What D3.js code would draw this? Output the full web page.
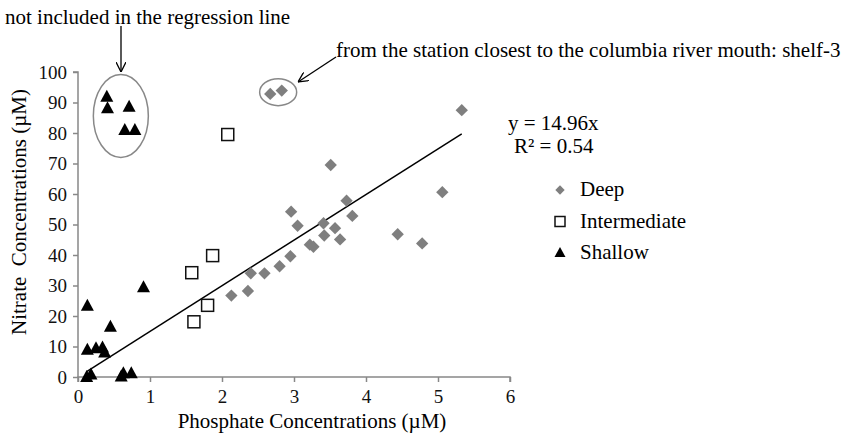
<!DOCTYPE html>
<html>
<head>
<meta charset="utf-8">
<script src="https://cdn.jsdelivr.net/npm/d3@7"></script>
<style>
  body { margin: 0; background: #fff; }
  svg { font-family: "Liberation Serif", "Times New Roman", serif; }
</style>
</head>
<body>
<svg id="chart" width="856" height="433"></svg>
<script>
// phosphate (x) vs nitrate (y)
const deepX = [2.67, 2.83, 5.33, 3.51, 5.06, 3.73, 2.96, 3.81, 3.05, 3.41, 3.57, 3.42, 3.64, 4.44, 4.78, 3.22, 3.27, 2.95, 2.80, 2.59, 2.40, 2.36, 2.13];
const deepY = [92.8, 93.9, 87.5, 69.5, 60.6, 57.8, 54.2, 52.8, 49.6, 50.4, 48.8, 46.4, 45.1, 46.8, 43.8, 43.4, 42.7, 39.6, 36.3, 34.0, 34.0, 28.2, 26.7];
const interX = [2.08, 1.87, 1.58, 1.80, 1.61];
const interY = [79.5, 39.8, 34.2, 23.5, 18.1];
const shallowX = [0.40, 0.41, 0.71, 0.65, 0.79, 0.13, 0.91, 0.45, 0.13, 0.25, 0.34, 0.37, 0.12, 0.18, 0.60, 0.63, 0.74];
const shallowY = [91.9, 88.1, 88.6, 81.0, 81.0, 23.4, 29.4, 16.5, 8.9, 9.4, 9.7, 8.0, 0.0, 0.8, 0.2, 1.2, 1.2];

const xTicks = [0, 1, 2, 3, 4, 5, 6];
const yTicks = [0, 10, 20, 30, 40, 50, 60, 70, 80, 90, 100];
const slope = 14.96;
const fitRange = [0.12, 5.33];
const seriesNames = ["Deep", "Intermediate", "Shallow"];

const svg = d3.select("#chart");
const x = d3.scaleLinear().domain([0, 6]).range([78, 510]);
const y = d3.scaleLinear().domain([0, 100]).range([377, 72]);
const axisColor = "#888";
const deepColor = "#7f7f7f";
const bigFont = "21px";

// axes
const xAxis = svg.append("g")
  .attr("transform", `translate(0,${y(0)})`)
  .call(d3.axisBottom(x).tickValues(xTicks).tickSize(5).tickPadding(8).tickFormat(d3.format("d")));
const yAxis = svg.append("g")
  .attr("transform", `translate(${x(0)},0)`)
  .call(d3.axisLeft(y).tickValues(yTicks).tickSize(5).tickPadding(6).tickFormat(d3.format("d")));

[xAxis, yAxis].forEach(a => {
  a.select(".domain").attr("stroke", axisColor).attr("stroke-width", 1.5);
  a.selectAll(".tick line").attr("stroke", axisColor).attr("stroke-width", 1.5);
  a.selectAll(".tick text")
    .attr("fill", "#111")
    .style("font-family", "Liberation Serif")
    .style("font-size", "19px");
});
xAxis.select(".domain").attr("d", `M${x(0)},5V0H${x(6)}V5`);
yAxis.select(".domain").attr("d", `M-5,${y(100)}H0V${y(0)}`);

svg.append("text")
  .attr("x", 312).attr("y", 428)
  .attr("text-anchor", "middle")
  .style("font-size", bigFont)
  .text("Phosphate Concentrations (\u00b5M)");

svg.append("text")
  .attr("transform", `translate(26,212) rotate(-90)`)
  .attr("text-anchor", "middle")
  .style("font-size", bigFont)
  .style("white-space", "pre")
  .text("Nitrate  Concentrations (\u00b5M)");

// regression line
svg.append("line")
  .attr("x1", x(fitRange[0])).attr("y1", y(slope * fitRange[0]))
  .attr("x2", x(fitRange[1])).attr("y2", y(slope * fitRange[1]))
  .attr("stroke", "#000").attr("stroke-width", 1.5);

const diamond = d3.symbol().type(d3.symbolSquare).size(76);
const triangle = "M0,-7L6.5,5L-6.5,5Z";

// deep
svg.append("g").selectAll("path")
  .data(d3.zip(deepX, deepY))
  .join("path")
  .attr("d", diamond)
  .attr("transform", d => `translate(${x(d[0])},${y(d[1])}) rotate(45)`)
  .attr("fill", deepColor);

// intermediate
svg.append("g").selectAll("rect")
  .data(d3.zip(interX, interY))
  .join("rect")
  .attr("x", d => x(d[0]) - 6).attr("y", d => y(d[1]) - 6)
  .attr("width", 12).attr("height", 12)
  .attr("fill", "#fff").attr("stroke", "#111").attr("stroke-width", 1.5);

// shallow
svg.append("g").selectAll("path")
  .data(d3.zip(shallowX, shallowY))
  .join("path")
  .attr("d", triangle)
  .attr("transform", d => `translate(${x(d[0])},${y(d[1])})`)
  .attr("fill", "#000");

// circled groups
svg.append("ellipse")
  .attr("cx", x(0.595)).attr("cy", y(85.6))
  .attr("rx", 27.5).attr("ry", 41.5)
  .attr("fill", "none").attr("stroke", "#888").attr("stroke-width", 1.5);
svg.append("ellipse")
  .attr("cx", x(2.78)).attr("cy", y(93.4))
  .attr("rx", 18.5).attr("ry", 13.5)
  .attr("fill", "none").attr("stroke", "#888").attr("stroke-width", 1.5);

// annotations
svg.append("defs").append("marker")
  .attr("id", "arrow")
  .attr("viewBox", "0 0 10 10")
  .attr("refX", 10).attr("refY", 5)
  .attr("markerWidth", 10).attr("markerHeight", 10)
  .attr("markerUnits", "userSpaceOnUse")
  .attr("orient", "auto")
  .append("path")
  .attr("d", "M0,0L10,5L0,10")
  .attr("fill", "none").attr("stroke", "#000").attr("stroke-width", 1.3);

svg.append("text")
  .attr("x", 5).attr("y", 24)
  .style("font-size", bigFont)
  .text("not included in the regression line");
svg.append("path")
  .attr("d", "M121,26V72")
  .attr("stroke", "#000").attr("stroke-width", 1.3).attr("fill", "none")
  .attr("marker-end", "url(#arrow)");

svg.append("text")
  .attr("x", 336).attr("y", 57)
  .style("font-size", bigFont)
  .text("from the station closest to the columbia river mouth: shelf-3");
svg.append("path")
  .attr("d", "M336,57L298,82")
  .attr("stroke", "#000").attr("stroke-width", 1.3).attr("fill", "none")
  .attr("marker-end", "url(#arrow)");

// trendline label
svg.append("text").attr("x", 508).attr("y", 130).style("font-size", bigFont).text(`y = ${slope}x`);
svg.append("text").attr("x", 514).attr("y", 153).style("font-size", bigFont).text("R\u00b2 = 0.54");

// legend
const legend = svg.append("g").attr("transform", "translate(560,190)");
const rows = legend.selectAll("g").data(seriesNames).join("g")
  .attr("transform", (d, i) => `translate(0,${i * 31.5})`);
rows.append("path")
  .attr("d", (d, i) => i === 0 ? d3.symbol().type(d3.symbolSquare).size(44)() : i === 1 ? "M-5,-5H5V5H-5Z" : "M0,-6L5.5,4L-5.5,4Z")
  .attr("transform", (d, i) => i === 0 ? "rotate(45)" : null)
  .attr("fill", (d, i) => i === 0 ? deepColor : i === 1 ? "#fff" : "#000")
  .attr("stroke", (d, i) => i === 1 ? "#111" : "none")
  .attr("stroke-width", 1.5);
rows.append("text")
  .attr("x", 20).attr("y", 6)
  .style("font-size", bigFont)
  .text(d => d);
</script>
</body>
</html>
